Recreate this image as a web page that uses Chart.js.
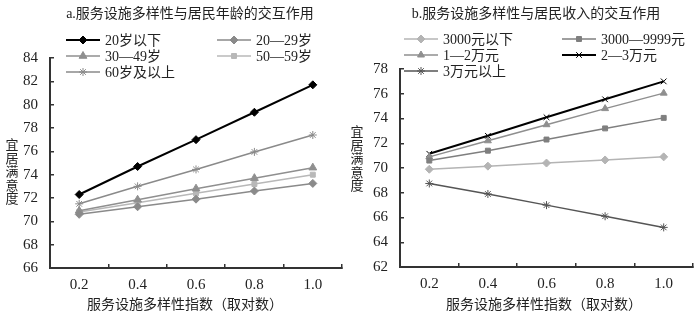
<!DOCTYPE html>
<html>
<head>
<meta charset="utf-8">
<script src="https://cdn.jsdelivr.net/npm/chart.js@4/dist/chart.umd.min.js"></script>
<style>
  body { margin: 0; background: #fff; }
  .wrap { position: relative; width: 700px; height: 314px; }
  canvas { position: absolute; top: 0; }
</style>
</head>
<body>
<div class="wrap">
  <canvas id="ageChart" width="350" height="314" style="left:0"></canvas>
  <canvas id="incomeChart" width="350" height="314" style="left:350px"></canvas>
</div>
<script>
const categories = ['0.2', '0.4', '0.6', '0.8', '1.0'];

// a. 居民年龄
const ageLabels = ['20岁以下', '20—29岁', '30—49岁', '50—59岁', '60岁及以上'];
const ageUnder20 = [72.3, 74.7, 77.0, 79.35, 81.7];
const age20to29 = [70.6, 71.25, 71.9, 72.6, 73.25];
const age30to49 = [70.9, 71.85, 72.8, 73.7, 74.6];
const age50to59 = [70.8, 71.6, 72.4, 73.2, 74.0];
const age60plus = [71.5, 73.0, 74.45, 75.95, 77.4];

// b. 居民收入
const incomeLabels = ['3000元以下', '3000—9999元', '1—2万元', '2—3万元', '3万元以上'];
const incLt3000 = [69.9, 70.15, 70.4, 70.65, 70.9];
const inc3000to9999 = [70.6, 71.4, 72.3, 73.2, 74.05];
const inc1to2w = [70.9, 72.2, 73.5, 74.8, 76.05];
const inc2to3w = [71.15, 72.6, 74.1, 75.55, 77.0];
const inc3wPlus = [68.75, 67.9, 67.0, 66.1, 65.2];

const FONT = '"Liberation Serif", "Noto Sans CJK SC", serif';

function series(label, data, color, style, radius, width) {
  return {
    label, data,
    borderColor: color, backgroundColor: color,
    pointStyle: style, pointRadius: radius, pointHoverRadius: radius,
    pointBorderWidth: 1, borderWidth: width || 1.5,
    tension: 0
  };
}

// titles, vertical y title, x title and the two-column legend
const panelText = {
  id: 'panel',
  afterDraw(chart, args, opts) {
    const ctx = chart.ctx;
    ctx.save();
    ctx.fillStyle = '#222';
    ctx.textBaseline = 'middle';
    ctx.font = '14px ' + FONT;
    ctx.textAlign = 'center';
    ctx.fillText(opts.title, opts.titleX, 14);
    ctx.fillText(opts.xTitle, opts.xTitleX, 305);
    ctx.font = '13px ' + FONT;
    opts.yTitle.split('').forEach((ch, i) => {
      ctx.fillText(ch, opts.yTitleX, opts.yTitleY + i * 13.5);
    });
    ctx.font = '14px ' + FONT;
    ctx.textAlign = 'left';
    chart.data.datasets.forEach((ds, i) => {
      const col = i % 2, row = Math.floor(i / 2);
      const x0 = opts.legendCols[col], y = opts.legendRows[row];
      ctx.strokeStyle = ds.borderColor;
      ctx.fillStyle = ds.borderColor;
      ctx.lineWidth = ds.borderWidth;
      ctx.beginPath();
      ctx.moveTo(x0, y);
      ctx.lineTo(x0 + 34, y);
      ctx.stroke();
      ctx.lineWidth = 1;
      Chart.helpers.drawPoint(ctx, {pointStyle: ds.pointStyle, radius: ds.pointRadius, borderWidth: 1, rotation: 0}, x0 + 17, y);
      ctx.fillStyle = '#222';
      ctx.fillText(ds.label, x0 + 39, y + 1);
    });
    ctx.restore();
  }
};

function makeChart(id, datasets, yMin, yMax, pad, panel) {
  new Chart(document.getElementById(id), {
    type: 'line',
    data: { labels: categories, datasets },
    plugins: [panelText],
    options: {
      responsive: false,
      animation: false,
      devicePixelRatio: 1,
      layout: { padding: { top: pad.top, right: pad.right, left: 0, bottom: 0 } },
      plugins: {
        legend: { display: false },
        tooltip: { enabled: false },
        panel
      },
      scales: {
        x: {
          offset: true,
          grid: { offset: true, drawOnChartArea: false, tickLength: -4, color: '#333', lineWidth: 1.5 },
          border: { color: '#333', width: 2 },
          ticks: { color: '#222', padding: 12, font: { family: FONT, size: 15 } },
          afterFit: s => { s.height = pad.bottom; }
        },
        y: {
          min: yMin, max: yMax,
          grid: { drawOnChartArea: false, tickLength: -4, color: '#333', lineWidth: 1.5 },
          border: { color: '#333', width: 2 },
          ticks: { stepSize: 2, color: '#222', padding: 16, font: { family: FONT, size: 15 } },
          afterFit: s => { s.width = 50; }
        }
      }
    }
  });
}

makeChart('ageChart', [
  series(ageLabels[0], ageUnder20, '#000000', 'rectRot', 4, 2),
  series(ageLabels[1], age20to29, '#8a8a8a', 'rectRot', 4),
  series(ageLabels[2], age30to49, '#8f8f8f', 'triangle', 4.5),
  series(ageLabels[3], age50to59, '#b8b8b8', 'rect', 3.5),
  series(ageLabels[4], age60plus, '#8a8a8a', 'star', 4)
], 66, 84, { top: 58, right: 8, bottom: 46 }, {
  title: 'a.服务设施多样性与居民年龄的交互作用', titleX: 190,
  xTitle: '服务设施多样性指数（取对数）', xTitleX: 185,
  yTitle: '宜居满意度', yTitleX: 12, yTitleY: 146,
  legendCols: [66, 217], legendRows: [40, 56, 72]
});

makeChart('incomeChart', [
  series(incomeLabels[0], incLt3000, '#b4b4b4', 'rectRot', 4),
  series(incomeLabels[1], inc3000to9999, '#7f7f7f', 'rect', 3.5),
  series(incomeLabels[2], inc1to2w, '#8f8f8f', 'triangle', 4),
  series(incomeLabels[3], inc2to3w, '#000000', 'crossRot', 4, 2),
  series(incomeLabels[4], inc3wPlus, '#555555', 'star', 4)
], 62, 78, { top: 69, right: 7, bottom: 47 }, {
  title: 'b.服务设施多样性与居民收入的交互作用', titleX: 186,
  xTitle: '服务设施多样性指数（取对数）', xTitleX: 194,
  yTitle: '宜居满意度', yTitleX: 7, yTitleY: 133,
  legendCols: [54, 212], legendRows: [39, 55, 71]
});
</script>
</body>
</html>
